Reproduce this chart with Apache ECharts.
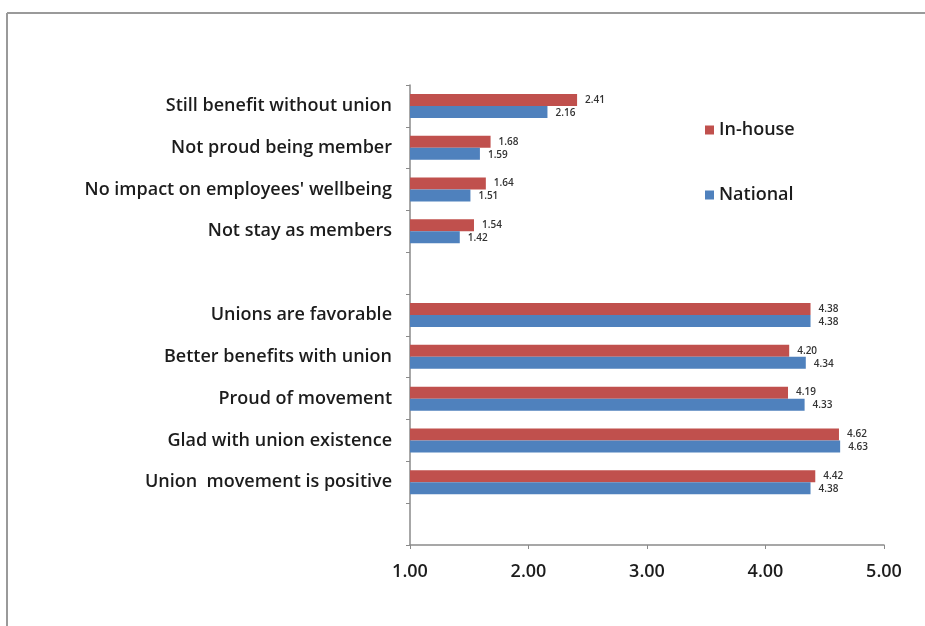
<!DOCTYPE html>
<html>
<head>
<meta charset="utf-8">
<script src="https://cdn.jsdelivr.net/npm/echarts@6/dist/echarts.min.js"></script>
<style>
  html, body { margin: 0; padding: 0; background: #fff; }
  #chart { width: 925px; height: 626px; }
</style>
</head>
<body>
<div id="chart"></div>
<script>
// Survey statements, top to bottom; empty strings are spacer rows
const categories = [
  'Still benefit without union',
  'Not proud being member',
  "No impact on employees' wellbeing",
  'Not stay as members',
  '',
  'Unions are favorable',
  'Better benefits with union',
  'Proud of movement',
  'Glad with union existence',
  'Union  movement is positive',
  ''
];
const inHouse  = [2.41, 1.68, 1.64, 1.54, null, 4.38, 4.20, 4.19, 4.62, 4.42, null];
const national = [2.16, 1.59, 1.51, 1.42, null, 4.38, 4.34, 4.33, 4.63, 4.38, null];
const xTicks = [1, 2, 3, 4, 5];

const font = '"Open Sans", "Liberation Sans", sans-serif';
const textColor = '#1c1c1c';
const chart = echarts.init(document.getElementById('chart'));

const labelStyle = (dy) => ({
  show: true,
  position: 'right',
  distance: 8,
  offset: [0, dy],
  formatter: (p) => p.value == null ? '' : Number(p.value).toFixed(2),
  fontFamily: font,
  fontSize: 10,
  fontWeight: 600,
  color: '#333'
});

chart.setOption({
  animation: false,
  textStyle: { fontFamily: font },
  graphic: [
    { type: 'line', shape: { x1: 7, y1: 13, x2: 925, y2: 13 }, style: { stroke: '#9a9a9a', lineWidth: 2 } },
    { type: 'line', shape: { x1: 7, y1: 13, x2: 7, y2: 626 }, style: { stroke: '#9a9a9a', lineWidth: 2 } }
  ],
  legend: {
    orient: 'vertical',
    left: 700,
    top: 116,
    itemGap: 47,
    itemWidth: 9,
    itemHeight: 9,
    icon: 'rect',
    textStyle: { fontFamily: font, fontSize: 18, fontWeight: 600, color: textColor },
    data: ['In-house', 'National']
  },
  grid: { left: 410, right: 41, top: 85, bottom: 81, containLabel: false },
  xAxis: {
    type: 'value',
    min: xTicks[0],
    max: xTicks[xTicks.length - 1],
    interval: 1,
    axisLine: { show: true, lineStyle: { color: '#8a8a8a', width: 1.5 } },
    axisTick: { show: true, length: 4, inside: false, lineStyle: { color: '#8a8a8a' } },
    splitLine: { show: false },
    axisLabel: {
      formatter: (v) => v.toFixed(2),
      fontFamily: font, fontSize: 18, fontWeight: 600, color: textColor, margin: 18
    }
  },
  yAxis: {
    type: 'category',
    inverse: true,
    data: categories,
    axisLine: { show: true, lineStyle: { color: '#8a8a8a', width: 1.5 } },
    axisTick: { show: true, length: 4, lineStyle: { color: '#8a8a8a' } },
    axisLabel: { fontFamily: font, fontSize: 18, fontWeight: 600, color: textColor, margin: 18 }
  },
  series: [
    {
      name: 'In-house', type: 'bar', data: inHouse,
      barWidth: 12, barGap: '0%',
      itemStyle: { color: '#C0504D' },
      label: labelStyle(0)
    },
    {
      name: 'National', type: 'bar', data: national,
      barWidth: 12, barGap: '0%',
      itemStyle: { color: '#4F81BD' },
      label: labelStyle(1)
    }
  ]
});
</script>
</body>
</html>
